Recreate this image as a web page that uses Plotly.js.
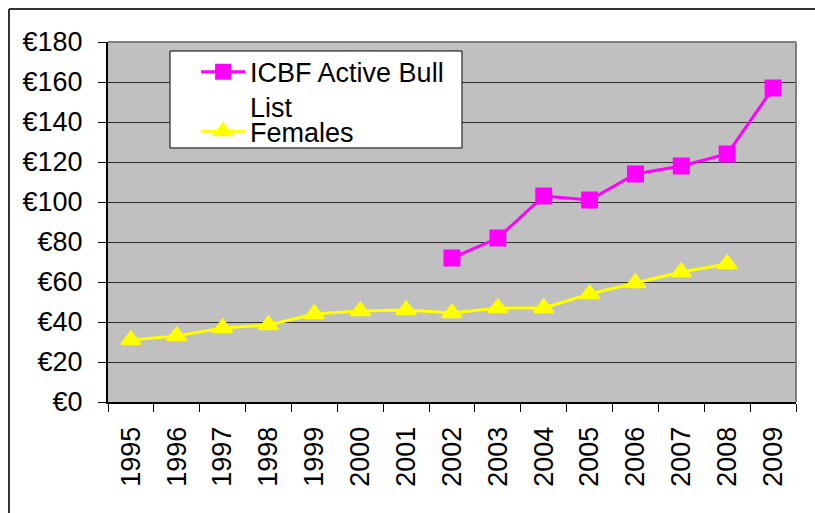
<!DOCTYPE html>
<html>
<head>
<meta charset="utf-8">
<script src="https://cdn.plot.ly/plotly-3.0.1.min.js"></script>
<style>html,body{margin:0;padding:0;background:#fff;}#chart{width:815px;height:513px;}</style>
</head>
<body>
<div id="chart"></div>
<script>
const years = ['1995','1996','1997','1998','1999','2000','2001','2002','2003','2004','2005','2006','2007','2008','2009'];
const bullList = [null,null,null,null,null,null,null,72,82,103,101,114,118,124,157];
const females = [31,33,37,38.5,44,45.5,46,44.5,47,47,54,59.5,65,69,null];
const seriesNames = ['ICBF Active Bull<br>List','Females'];

const FONT = 'Liberation Sans, Arial, sans-serif';

const traces = [
  {x: years, y: bullList, name: seriesNames[0], type: 'scatter', mode: 'lines+markers', legend: 'legend',
   line: {color: '#FF00FF', width: 3}, marker: {symbol: 'square', size: 17, color: '#FF00FF'}},
  {x: years, y: females, name: seriesNames[1], type: 'scatter', mode: 'lines+markers', legend: 'legend2',
   line: {color: '#FFFF00', width: 3}, marker: {symbol: 'triangle-up', size: 17, color: '#FFFF00', line: {color: '#FFFF00', width: 2}}}
];

const legendStyle = (y) => ({x: 0.128, y: y, xanchor: 'left', yanchor: 'top', bgcolor: 'rgba(0,0,0,0)',
  borderwidth: 0, valign: 'top', itemwidth: 44, font: {family: FONT, size: 27, color: '#000'}});

const layout = {
  width: 815, height: 513,
  margin: {l: 108, r: 19, t: 42, b: 111},
  paper_bgcolor: '#ffffff', plot_bgcolor: '#c0c0c0',
  font: {family: FONT, size: 27, color: '#000'},
  showlegend: true,
  legend: legendStyle(0.984),
  legend2: legendStyle(0.819),
  xaxis: {type: 'category', range: [-0.5, 14.5], tickson: 'boundaries', ticks: 'outside', ticklen: 8, tickcolor: '#000', tickwidth: 1,
          showgrid: false, showline: true, linecolor: '#000', linewidth: 2, tickangle: -90,
          ticklabelstandoff: 12, fixedrange: true},
  yaxis: {range: [0, 180], dtick: 20, tickprefix: '€', ticks: 'outside', ticklen: 8, tickcolor: '#000', tickwidth: 1,
          showgrid: true, gridcolor: '#303030', gridwidth: 1, zeroline: false, showline: true, linecolor: '#000', linewidth: 2,
          ticklabelstandoff: 10, fixedrange: true},
  shapes: [
    {type: 'line', xref: 'paper', yref: 'paper', x0: 0, x1: 1, y0: 1, y1: 1, line: {color: '#808080', width: 2}},
    {type: 'line', xref: 'paper', yref: 'paper', x0: 1, x1: 1, y0: 0, y1: 1, line: {color: '#808080', width: 2}},
    {type: 'rect', xref: 'paper', yref: 'paper', x0: 0.0901, x1: 0.5145, y0: 0.7056, y1: 0.975, layer: 'above',
     fillcolor: '#ffffff', line: {color: '#000', width: 1}},
    {type: 'line', xref: 'paper', yref: 'paper', x0: -0.1439, x1: 1.03, y0: 1.0917, y1: 1.0917, line: {color: '#333', width: 2}},
    {type: 'line', xref: 'paper', yref: 'paper', x0: -0.1439, x1: -0.1439, y0: 1.0917, y1: -0.32, line: {color: '#333', width: 2}}
  ]
};

Plotly.newPlot('chart', traces, layout, {displayModeBar: false, staticPlot: true});
</script>
</body>
</html>
